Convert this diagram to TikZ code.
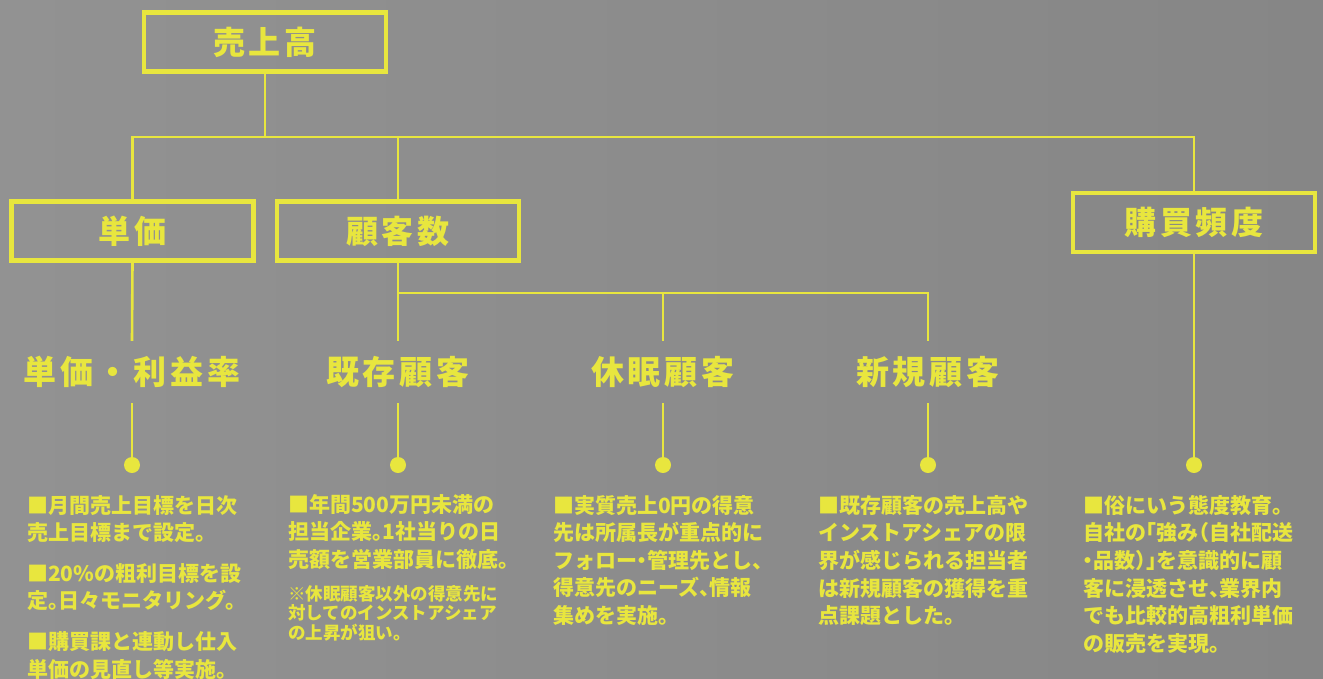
\documentclass[tikz,border=0pt]{standalone}
\usepackage{fontspec}
\newfontfamily\jp{Noto Sans CJK JP}[RawFeature=+halt]
\newfontfamily\jpw{Noto Sans CJK JP}[LetterSpace=12]
\definecolor{ylw}{RGB}{232,230,62}
\definecolor{bgl}{RGB}{146,146,146}
\definecolor{bgr}{RGB}{134,134,134}
\begin{document}
\begin{tikzpicture}[x=1pt,y=-1pt,
  box/.style={draw=ylw, line width=4.5pt, minimum width=242pt, minimum height=59pt, inner sep=0pt, text=ylw, font=\jpw\bfseries\fontsize{32}{32}\selectfont},
  conn/.style={draw=ylw, line width=2.6pt},
  head/.style={text=ylw, font=\jpw\bfseries\fontsize{33}{33}\selectfont, minimum height=62pt, inner sep=0pt},
  dot/.style={circle, fill=ylw, minimum size=16pt, inner sep=0pt},
  body/.style={text=ylw, font=\jp\bfseries\fontsize{21}{27.6}\selectfont, align=left, anchor=north west, inner sep=0pt},
  note/.style={text=ylw, font=\jp\bfseries\fontsize{17.5}{19.8}\selectfont, align=left, anchor=north west, inner sep=0pt}]
\shade[left color=bgl, right color=bgr] (0,0) rectangle (1323,678);
\useasboundingbox (0,0) rectangle (1323,678);

\coordinate (bus) at (0,137);
\coordinate (sub) at (0,293);

\node[box] (top) at (265,42) {売上高};
\node[box] (tanka) at (132.5,231) {単価};
\node[box] (kokyaku) at (398,231) {顧客数};
\node[box] (freq) at (1194,222.5) {購買頻度};

\node[head] (h1) at (132,372) {単価・利益率};
\node[head] (h2) at (398,372) {既存顧客};
\node[head] (h3) at (663,372) {休眠顧客};
\node[head] (h4) at (928,372) {新規顧客};

\node[dot] (d1) at (132,465) {};
\node[dot] (d2) at (398,465) {};
\node[dot] (d3) at (663,465) {};
\node[dot] (d4) at (928,465) {};
\node[dot] (d5) at (1194,465) {};

\draw[conn] (top.south) -- (top.south |- bus);
\draw[conn] (tanka.north) -- (tanka.north |- bus) -- (freq.north |- bus) -- (freq.north);
\draw[conn] (kokyaku.north) -- (kokyaku.north |- bus);
\draw[conn] (tanka.south) -- (h1.north);
\draw[conn] (kokyaku.south) -- (h2.north);
\draw[conn] (kokyaku.south |- sub) -| (h4.north);
\draw[conn] (h3.north |- sub) -- (h3.north);
\draw[conn] (h1.south) -- (d1.north);
\draw[conn] (h2.south) -- (d2.north);
\draw[conn] (h3.south) -- (d3.north);
\draw[conn] (h4.south) -- (d4.north);
\draw[conn] (freq.south) -- (d5.north);

\node[body] (t1) at (27,495) {■月間売上目標を日次\\売上目標まで設定。\\[13pt]■20\%の粗利目標を設\\定。日々モニタリング。\\[13pt]■購買課と連動し仕入\\単価の見直し等実施。};
\node[body] (t2) at (288,494) {■年間500万円未満の\\担当企業。1社当りの日\\売額を営業部員に徹底。};
\node[note] (t2n) at (288,585) {※休眠顧客以外の得意先に\\対してのインストアシェア\\の上昇が狙い。};
\node[body] (t3) at (553,495) {■実質売上0円の得意\\先は所属長が重点的に\\フォロー・管理先とし、\\得意先のニーズ、情報\\集めを実施。};
\node[body] (t4) at (818,495) {■既存顧客の売上高や\\インストアシェアの限\\界が感じられる担当者\\は新規顧客の獲得を重\\点課題とした。};
\node[body] (t5) at (1083,495) {■俗にいう態度教育。\\自社の「強み（自社配送\\・品数）」を意識的に顧\\客に浸透させ、業界内\\でも比較的高粗利単価\\の販売を実現。};
\end{tikzpicture}
\end{document}
